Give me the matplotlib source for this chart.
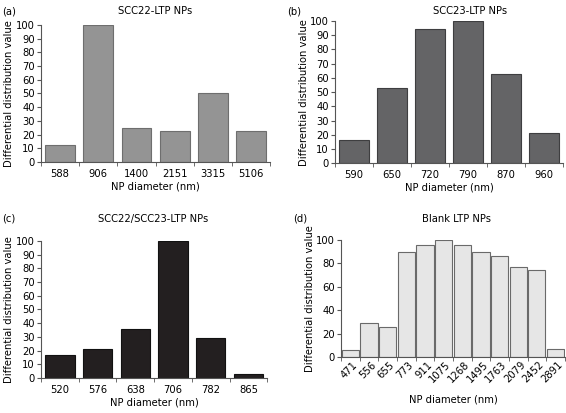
import numpy as np
import matplotlib
matplotlib.use("Agg")
import matplotlib.pyplot as plt

plt.rcParams['font.family'] = ['DejaVu Sans']

# panel (a) SCC22-LTP NPs
sizes_a = ["588", "906", "1400", "2151", "3315", "5106"]
vals_a = [12, 100, 25, 22.5, 50, 22.5]

# panel (b) SCC23-LTP NPs
sizes_b = ["590", "650", "720", "790", "870", "960"]
vals_b = [16, 53, 94.5, 100, 62.8, 21]

# panel (c) SCC22/SCC23-LTP NPs
sizes_c = ["520", "576", "638", "706", "782", "865"]
vals_c = [17, 21, 36, 100, 29, 3]

# panel (d) Blank LTP NPs
sizes_d = ["471", "556", "655", "773", "911", "1075", "1268", "1495",
           "1763", "2079", "2452", "2891"]
vals_d = [6, 29, 26, 90, 95.5, 100, 95.5, 90, 86, 76.8, 74.2, 6.6]

TXT = 7.2
AXC = '#555555'


def style_axis(ax, n, ymax, ystep):
    for s in ['top', 'right']:
        ax.spines[s].set_visible(False)
    for s in ['left', 'bottom']:
        ax.spines[s].set_color(AXC)
        ax.spines[s].set_linewidth(0.8)
    ax.set_xlim(-0.5, n - 0.5)
    ax.set_ylim(0, ymax)
    ax.set_yticks(np.arange(0, ymax + 1, ystep))
    ax.tick_params(axis='y', direction='out', length=3, color=AXC,
                   labelsize=TXT, pad=1.5)
    # ticks at category borders, labels in the middle
    ax.set_xticks(np.arange(-0.5, n, 1.0), minor=True)
    ax.tick_params(axis='x', which='minor', direction='out', length=3, color=AXC)
    ax.tick_params(axis='x', which='major', length=0, labelsize=TXT, pad=5)


def bar_panel(rect, labels, vals, face, edge):
    ax = fig.add_axes(rect)
    x = np.arange(len(vals))
    ax.bar(x, vals, width=0.78, color=face, edgecolor=edge, linewidth=0.8)
    style_axis(ax, len(vals), 100, 10)
    ax.set_xticks(x)
    ax.set_xticklabels(labels)
    ax.set_xlabel("NP diameter (nm)", fontsize=TXT, labelpad=2)
    ax.set_ylabel("Differential distribution value", fontsize=TXT, labelpad=1)
    return ax


fig = plt.figure(figsize=(5.66, 4.13), dpi=100)

axa = bar_panel([0.0724, 0.608, 0.405, 0.3315], sizes_a, vals_a,
                '#949494', '#6e6e6e')
axb = bar_panel([0.592, 0.605, 0.403, 0.344], sizes_b, vals_b,
                '#646466', '#3e3e40')
axc = bar_panel([0.0724, 0.085, 0.400, 0.3315], sizes_c, vals_c,
                '#231f20', '#111111')

# panel (d)
axd = fig.add_axes([0.6025, 0.1356, 0.3955, 0.2834])
xd = np.arange(len(vals_d))
axd.bar(xd, vals_d, width=0.92, color='#e6e6e6',
        edgecolor='#6a6a6a', linewidth=0.8)
style_axis(axd, len(xd), 100, 20)
axd.set_xticks(xd + 0.1)
axd.set_xticklabels(sizes_d, rotation=45, ha='right', rotation_mode='anchor')
axd.tick_params(axis='x', which='major', pad=2)
axd.set_xlabel("NP diameter (nm)", fontsize=TXT, labelpad=7)
axd.set_ylabel("Differential distribution value", fontsize=TXT, labelpad=1)

# titles and panel tags
fig.text(0.274, 0.985, "SCC22-LTP NPs", fontsize=TXT, ha='center', va='top')
fig.text(0.004, 0.985, "(a)", fontsize=TXT, ha='left', va='top')
fig.text(0.830, 0.985, "SCC23-LTP NPs", fontsize=TXT, ha='center', va='top')
fig.text(0.507, 0.985, "(b)", fontsize=TXT, ha='left', va='top')
fig.text(0.271, 0.483, "SCC22/SCC23-LTP NPs", fontsize=TXT, ha='center', va='top')
fig.text(0.004, 0.483, "(c)", fontsize=TXT, ha='left', va='top')
fig.text(0.806, 0.483, "Blank LTP NPs", fontsize=TXT, ha='center', va='top')
fig.text(0.518, 0.483, "(d)", fontsize=TXT, ha='left', va='top')

fig.savefig("out.png", dpi=100)
